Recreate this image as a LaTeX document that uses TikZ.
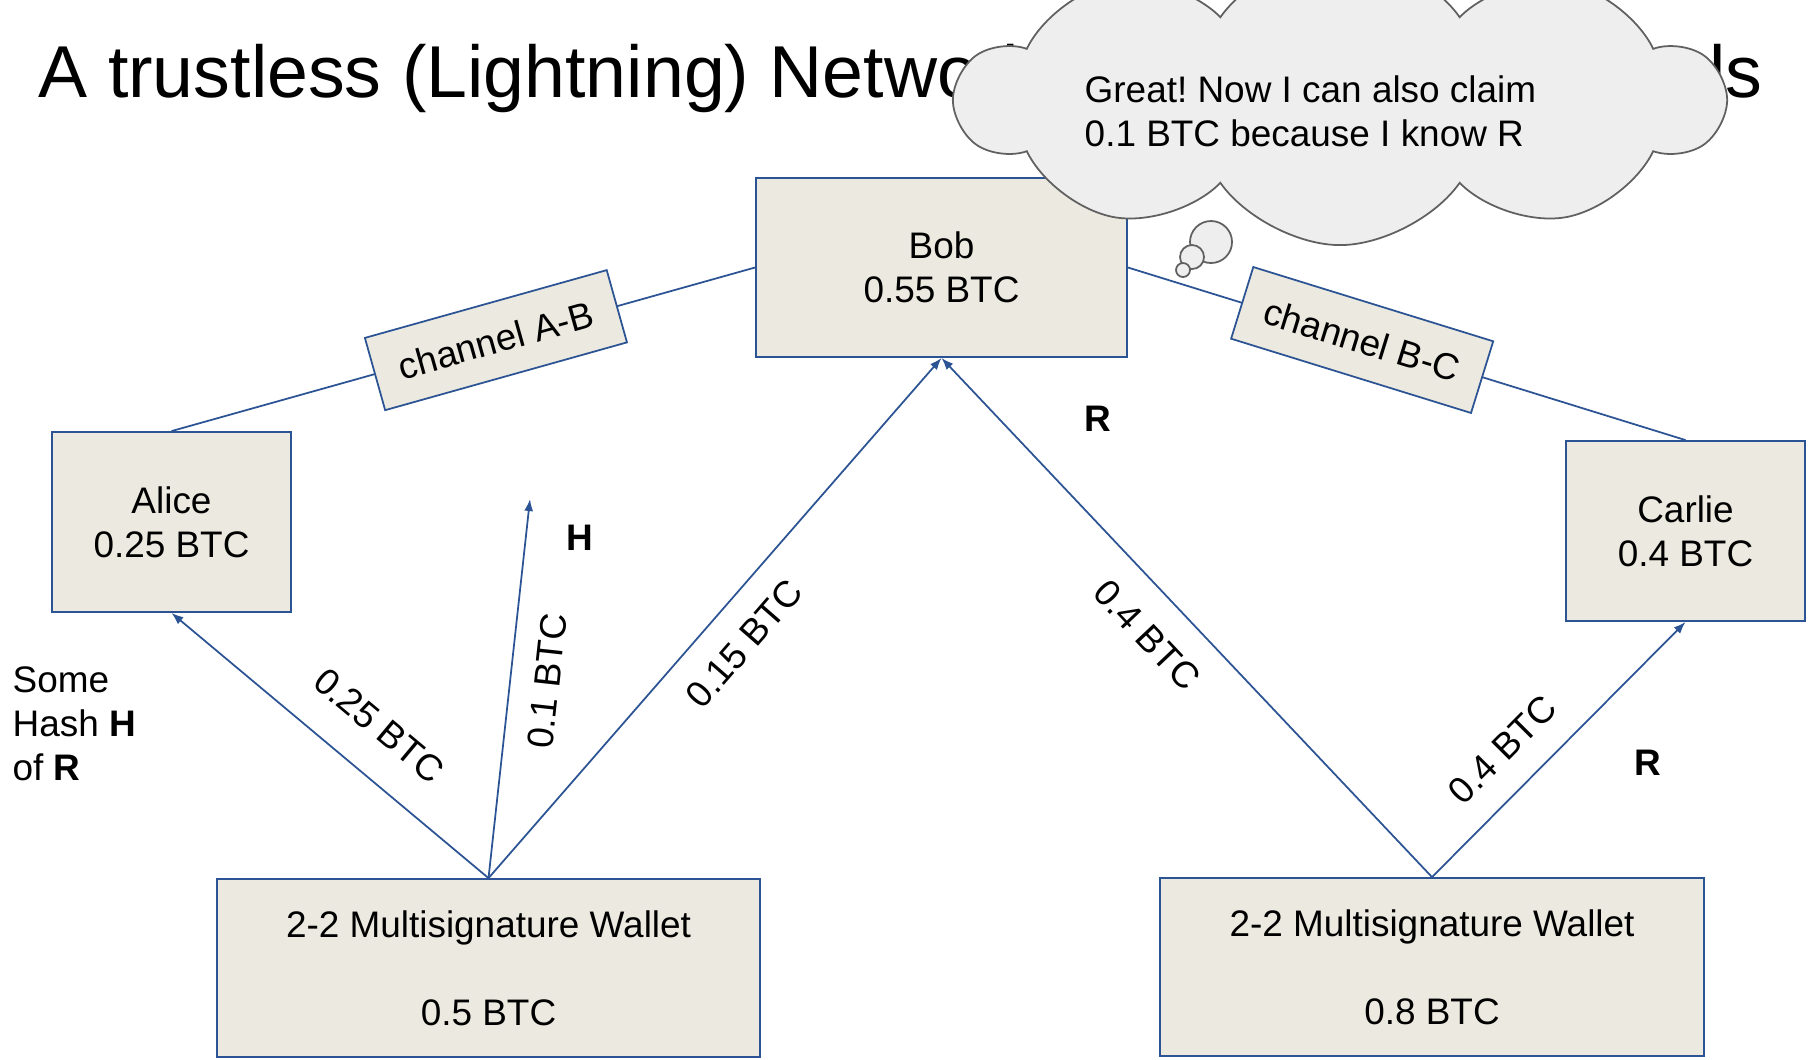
\documentclass[tikz,border=0pt]{standalone}
\usepackage{fontspec}
\setmainfont{Liberation Sans}
\usetikzlibrary{arrows.meta,shapes.symbols}
\definecolor{boxFill}{RGB}{236,234,224}
\definecolor{lineBlue}{RGB}{44,84,148}
\definecolor{cloudFill}{RGB}{238,238,238}
\definecolor{cloudLine}{RGB}{96,96,96}
\frenchspacing

\begin{document}
\begin{tikzpicture}[x=0.01cm,y=-0.01cm,
    txt/.style={font=\fontsize{10.5}{12.5}\selectfont, inner sep=0pt},
    party/.style={txt, draw=lineBlue, line width=0.5pt, fill=boxFill, align=center},
    chan/.style={party, minimum width=2.51cm, minimum height=0.75cm},
    link/.style={draw=lineBlue, line width=0.5pt},
    pay/.style={link, -{Latex[length=0.12cm,width=0.09cm]}},
    amt/.style={txt, sloped},
    key/.style={txt, font=\fontsize{10.5}{12.5}\selectfont\bfseries},
    bubble/.style={draw=cloudLine, line width=0.5pt, fill=cloudFill}]
  \path[use as bounding box, clip] (0,0) rectangle (1816,1059);

  \node[anchor=base west, inner sep=0pt, font=\fontsize{20.9}{24}\selectfont] (title) at (38,97)
    {A trustless (Lightning) Network of Payment Channels};

  % the three parties and the two funding wallets
  \node[party, minimum width=3.71cm, minimum height=1.79cm] (bob) at (941.5,267.5) {Bob\\0.55 BTC};
  \node[party, minimum width=2.39cm, minimum height=1.80cm] (alice) at (171.5,522) {Alice\\0.25 BTC};
  \node[party, minimum width=2.39cm, minimum height=1.80cm] (carlie) at (1685.5,531) {Carlie\\0.4 BTC};
  \node[party, minimum width=5.43cm, minimum height=1.78cm] (walletA) at (488.5,968)
    {2-2 Multisignature Wallet\\[12.5pt]0.5 BTC};
  \node[party, minimum width=5.44cm, minimum height=1.78cm] (walletB) at (1432,967)
    {2-2 Multisignature Wallet\\[12.5pt]0.8 BTC};

  % channels
  \draw[link] (alice.north) -- node[chan, pos=0.556, sloped] (chanAB) {channel A-B} (bob.west);
  \draw[link] (bob.east) -- node[chan, pos=0.42, sloped] (chanBC) {channel B-C} (carlie.north);

  % payouts
  \coordinate (hTip) at (530,499);
  \draw[pay] (walletA.north) -- (alice.south) node[amt, pos=0.44, above=0.33cm] {0.25 BTC};
  \draw[pay] (walletA.north) -- (hTip) node[amt, pos=0.53, below=0.23cm] {0.1 BTC};
  \draw[pay] (walletA.north) -- (bob.south) node[amt, pos=0.5, below=0.25cm] {0.15 BTC};
  \draw[pay] (walletB.north) -- (bob.south) node[amt, pos=0.52, below=0.27cm] {0.4 BTC};
  \draw[pay] (walletB.north) -- (carlie.south) node[amt, pos=0.39, above=0.26cm] {0.4 BTC};

  \node[key] (hLabel) at (580,538) {H};
  \node[key] (rBob) at (1098,419) {R};
  \node[key] (rCarlie) at (1648,763) {R};
  \node[txt, anchor=west, align=left] (hashNote) at (12,724) {Some\\Hash \textbf{H}\\of \textbf{R}};

  % Bob's thought
  \node[cloud, cloud puffs=10, cloud puff arc=110, cloud ignores aspect, draw=cloudLine,
    line width=0.5pt, fill=cloudFill, minimum width=7.64cm, minimum height=2.9cm] (thought) at (1340,100) {};
  \draw[bubble] (1211,242) circle (0.21cm);
  \draw[bubble] (1192,257) circle (0.12cm);
  \draw[bubble] (1183,270) circle (0.07cm);
  \node[txt, anchor=west, align=left] (thoughtText) at (1084,111.5)
    {Great! Now I can also claim\\0.1 BTC because I know R};
\end{tikzpicture}
\end{document}
